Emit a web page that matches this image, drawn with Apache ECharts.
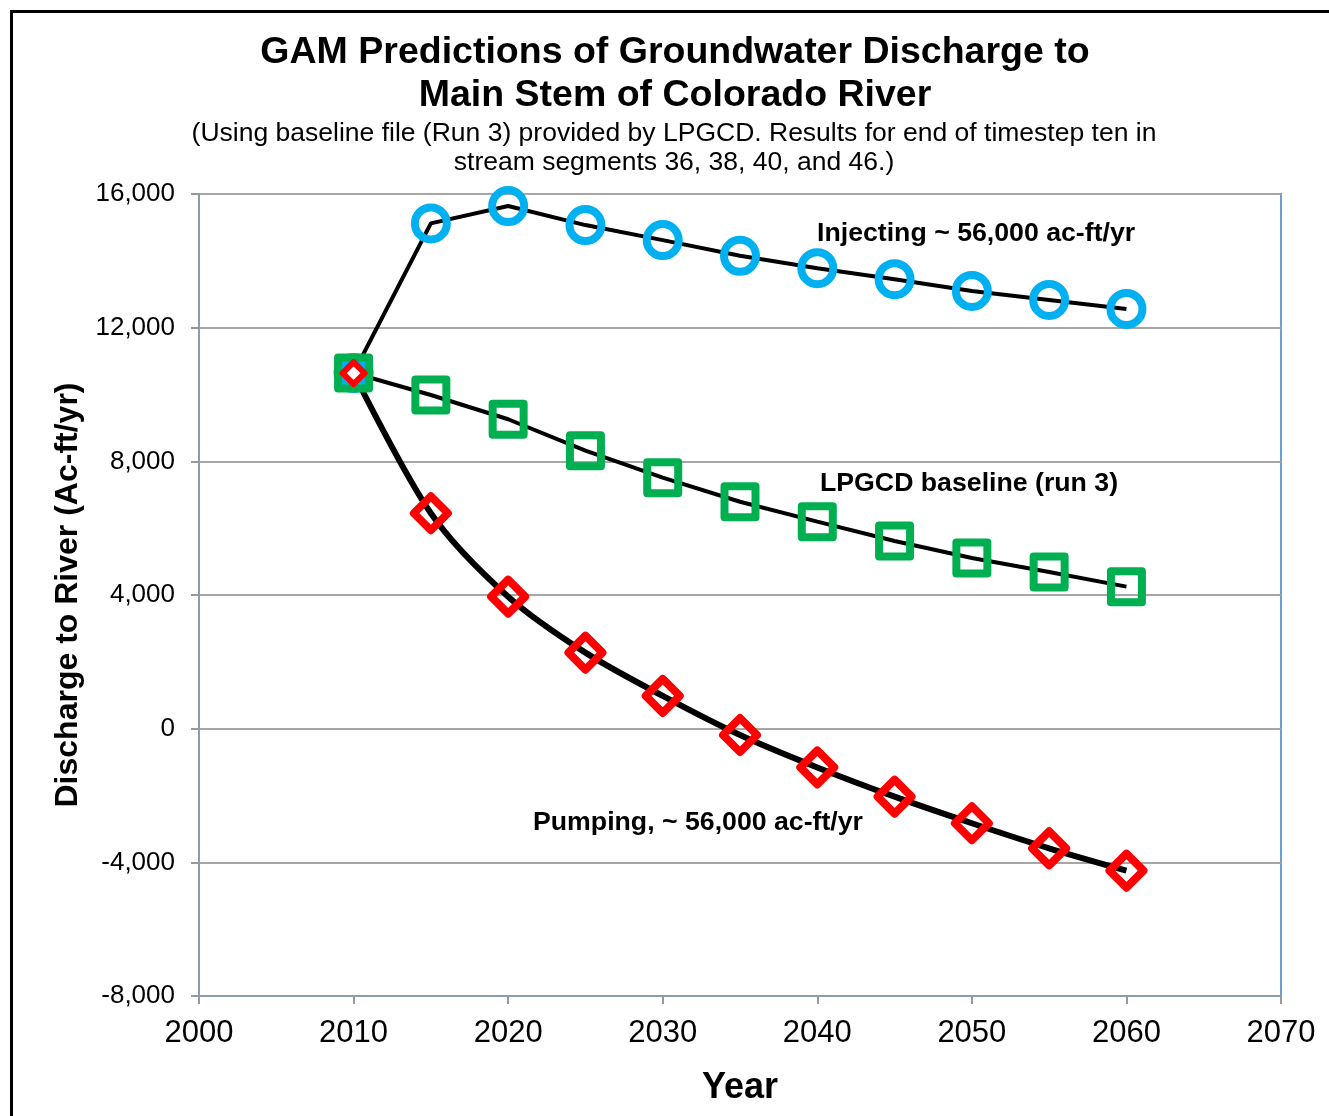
<!DOCTYPE html>
<html>
<head>
<meta charset="utf-8">
<title>GAM Predictions of Groundwater Discharge</title>
<script src="https://cdn.jsdelivr.net/npm/echarts@6/dist/echarts.min.js"></script>
<style>
  html, body { margin: 0; padding: 0; background: #fff; }
  #main { width: 1329px; height: 1116px; }
</style>
</head>
<body>
<div id="main"></div>
<script>
// years on the x axis
const years = [2010, 2015, 2020, 2025, 2030, 2035, 2040, 2045, 2050, 2055, 2060];

// discharge values (ac-ft/yr)
const injecting = [10643, 15120, 15640, 15070, 14620, 14150, 13780, 13450, 13100, 12830, 12560];
const baseline = [10643, 9985, 9260, 8320, 7510, 6790, 6195, 5615, 5105, 4690, 4250];
const pumping = [10643, 6445, 3950, 2275, 980, -190, -1160, -2035, -2830, -3580, -4250];

const titleLines = [
  "GAM Predictions of Groundwater Discharge to",
  "Main Stem of Colorado River"
];
const subLines = [
  "(Using baseline file (Run 3) provided by LPGCD. Results for end of timestep ten in",
  "stream segments 36, 38, 40, and 46.)"
];

const FONT = "'Liberation Sans', Arial, sans-serif";

function pairs(vals) {
  return vals.map((v, i) => [years[i], v]);
}

const chart = echarts.init(document.getElementById("main"));

// 2010 point: square filled blue, small white diamond on top
const baseData = pairs(baseline).map((p, i) =>
  i === 0 ? { value: p, itemStyle: { color: "#00B0F0" } } : p
);
const pumpData = pairs(pumping).map((p, i) =>
  i === 0 ? { value: p, symbolSize: 22, itemStyle: { color: "#fff", borderWidth: 6 } } : p
);

const option = {
  animation: false,
  backgroundColor: "#fff",
  textStyle: { fontFamily: FONT },
  grid: {
    left: 199,
    right: 48,
    top: 194,
    bottom: 120,
    outerBoundsMode: "none",
    containLabel: false,
    show: true,
    borderColor: "#6A9FD8",
    borderWidth: 2
  },
  xAxis: {
    type: "value",
    min: 2000,
    max: 2070,
    interval: 10,
    name: "Year",
    nameLocation: "middle",
    nameGap: 74,
    nameTextStyle: { fontFamily: FONT, fontSize: 36, fontWeight: "bold", color: "#000" },
    axisLine: { show: true, onZero: false, lineStyle: { color: "#8A9BB2", width: 2 } },
    axisTick: { show: true, length: 8, lineStyle: { color: "#999", width: 2 } },
    axisLabel: {
      fontFamily: FONT,
      fontSize: 31,
      color: "#000",
      margin: 22,
      formatter: (v) => String(v)
    },
    splitLine: { show: false }
  },
  yAxis: {
    type: "value",
    min: -8000,
    max: 16000,
    interval: 4000,
    name: "Discharge to River (Ac-ft/yr)",
    nameLocation: "middle",
    nameRotate: 90,
    nameGap: 114,
    nameTextStyle: { fontFamily: FONT, fontSize: 32, fontWeight: "bold", color: "#000" },
    axisLine: { show: true, onZero: false, lineStyle: { color: "#8A9BB2", width: 2 } },
    axisTick: { show: true, length: 8, lineStyle: { color: "#999", width: 2 } },
    axisLabel: {
      fontFamily: FONT,
      fontSize: 26,
      color: "#000",
      margin: 24,
      formatter: (v) => v.toLocaleString("en-US")
    },
    splitLine: { show: true, lineStyle: { color: "#A6A6A6", width: 2 } }
  },
  graphic: [
    // outer frame
    {
      type: "rect",
      shape: { x: 11.5, y: 11.5, width: 1340, height: 1130 },
      style: { fill: null, stroke: "#000", lineWidth: 3 },
      silent: true
    },
    {
      type: "text",
      x: 675, y: 53,
      style: { text: titleLines[0], font: "bold 37.5px " + FONT, fill: "#000", textAlign: "center", textVerticalAlign: "middle" }
    },
    {
      type: "text",
      x: 675, y: 96,
      style: { text: titleLines[1], font: "bold 37.5px " + FONT, fill: "#000", textAlign: "center", textVerticalAlign: "middle" }
    },
    {
      type: "text",
      x: 674, y: 134,
      style: { text: subLines[0], font: "26.5px " + FONT, fill: "#000", textAlign: "center", textVerticalAlign: "middle" }
    },
    {
      type: "text",
      x: 674, y: 163,
      style: { text: subLines[1], font: "26.5px " + FONT, fill: "#000", textAlign: "center", textVerticalAlign: "middle" }
    },
    // series notes
    {
      type: "text",
      x: 817, y: 234,
      style: { text: "Injecting ~ 56,000 ac-ft/yr", font: "bold 26.7px " + FONT, fill: "#000", textVerticalAlign: "middle" }
    },
    {
      type: "text",
      x: 820, y: 484,
      style: { text: "LPGCD baseline (run 3)", font: "bold 26.7px " + FONT, fill: "#000", textVerticalAlign: "middle" }
    },
    {
      type: "text",
      x: 533, y: 823,
      style: { text: "Pumping, ~ 56,000 ac-ft/yr", font: "bold 26.7px " + FONT, fill: "#000", textVerticalAlign: "middle" }
    }
  ],
  series: [
    {
      name: "Injecting",
      type: "line",
      data: pairs(injecting),
      symbol: "circle",
      symbolSize: 32,
      lineStyle: { color: "#000", width: 4 },
      itemStyle: { color: "rgba(0,0,0,0)", borderColor: "#00B0F0", borderWidth: 8 },
      emphasis: { disabled: true }
    },
    {
      name: "LPGCD baseline",
      type: "line",
      data: baseData,
      symbol: "rect",
      symbolSize: 31,
      lineStyle: { color: "#000", width: 4 },
      itemStyle: { color: "rgba(0,0,0,0)", borderColor: "#00B050", borderWidth: 8, borderJoin: "round" },
      emphasis: { disabled: true }
    },
    {
      name: "Pumping",
      type: "line",
      data: pumpData,
      smooth: 0.3,
      symbol: "diamond",
      symbolSize: 34,
      lineStyle: { color: "#000", width: 6 },
      itemStyle: { color: "rgba(0,0,0,0)", borderColor: "#FF0000", borderWidth: 8, borderJoin: "round" },
      emphasis: { disabled: true }
    }
  ]
};

chart.setOption(option);
</script>
</body>
</html>
